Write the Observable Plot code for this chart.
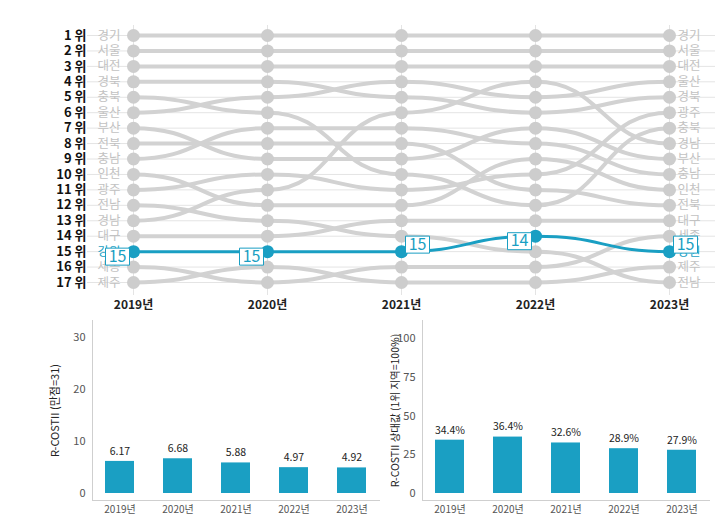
<!DOCTYPE html>
<html><head><meta charset="utf-8">
<script src="https://cdn.jsdelivr.net/npm/d3@7"></script>
<script src="https://cdn.jsdelivr.net/npm/@observablehq/plot@0.6"></script>
<style>
body{margin:0;background:#fff;font-family:"Noto Sans CJK KR","Noto Sans",sans-serif;}
#wrap{position:relative;width:728px;height:525px;overflow:hidden;background:#fff;}
#wrap > div{position:absolute;}
</style></head><body>
<div id="wrap"><div id="top" style="left:0;top:0"></div><div id="bl" style="left:0;top:318px"></div><div id="br" style="left:370px;top:318px"></div></div>
<script>
const years = [2019, 2020, 2021, 2022, 2023];
const order2019 = ["경기","서울","대전","경북","충북","울산","부산","전북","충남","인천","광주","전남","경남","대구","강원","세종","제주"];
const order2020 = ["경기","서울","대전","경북","울산","충북","충남","전북","부산","광주","경남","인천","전남","대구","강원","제주","세종"];
const order2021 = ["경기","서울","대전","울산","경북","경남","충남","전북","부산","충북","광주","인천","대구","전남","강원","세종","제주"];
const order2022 = ["경기","서울","대전","경남","울산","경북","부산","충남","인천","광주","전북","충북","대구","강원","전남","세종","제주"];
const order2023 = ["경기","서울","대전","울산","경북","광주","충북","경남","부산","충남","인천","전북","대구","세종","강원","제주","전남"];
const rankLabels = ["1 위","2 위","3 위","4 위","5 위","6 위","7 위","8 위","9 위","10 위","11 위","12 위","13 위","14 위","15 위","16 위","17 위"];
const highlight = "강원";
const yearLabels = ["2019년","2020년","2021년","2022년","2023년"];
const scoreValues = [6.17, 6.68, 5.88, 4.97, 4.92];
const scoreLabels = ["6.17","6.68","5.88","4.97","4.92"];
const scoreTicks = [0, 10, 20, 30];
const relValues = [34.4, 36.4, 32.6, 28.9, 27.9];
const relLabels = ["34.4%","36.4%","32.6%","28.9%","27.9%"];
const relTicks = [0, 25, 50, 75, 100];
const scoreTitle = "R-COSTII (만점=31)";
const relTitle = "R-COSTII 상대값 (1위 지역=100%)";

const BLUE = "#1a9fc3";
const FONT = "'Noto Sans CJK KR','Noto Sans',sans-serif";
const orders = [order2019, order2020, order2021, order2022, order2023];
const flows = orders.flatMap((ord, i) => ord.map((r, j) => ({region: r, year: years[i], rank: j + 1})));
const gray = flows.filter(d => d.region !== highlight);
const hi = flows.filter(d => d.region === highlight);
const ranks = rankLabels.map((_, i) => i + 1);
const firstYear = flows.filter(d => d.year === years[0]);
const lastYear = flows.filter(d => d.year === years[years.length - 1]);
const rightSide = new Set([2021, 2023]);
const hiLeft = hi.filter(d => !rightSide.has(d.year));
const hiRight = hi.filter(d => rightSide.has(d.year));
const box = {draw(ctx) { ctx.rect(-12, -8.5, 24, 17); }};

const topChart = Plot.plot({
  width: 728, height: 318,
  marginLeft: 133, marginRight: 59, marginTop: 35, marginBottom: 36,
  x: {domain: [years[0], years[years.length - 1]]},
  y: {domain: [1, 17], reverse: true, axis: null},
  style: {fontFamily: FONT, background: "transparent", overflow: "visible"},
  marks: [
    Plot.ruleY(ranks, {y: d => d, stroke: "#e4e4e4", strokeWidth: 1, insetLeft: -46, insetRight: -46}),
    Plot.ruleX(years, {x: d => d, stroke: "#e4e4e4", strokeWidth: 1, insetTop: -10, insetBottom: -13}),
    Plot.line(gray, {x: "year", y: "rank", z: "region", curve: "bump-x", stroke: "#d2d2d2", strokeWidth: 4}),
    Plot.dot(gray, {x: "year", y: "rank", r: 6.5, fill: "#cdcdcd"}),
    Plot.line(hi, {x: "year", y: "rank", curve: "bump-x", stroke: BLUE, strokeWidth: 3}),
    Plot.dot(hi, {x: "year", y: "rank", r: 6.5, fill: BLUE}),
    Plot.text(ranks, {frameAnchor: "left", y: d => d, text: d => rankLabels[d - 1], dx: -47, textAnchor: "end", fontWeight: "bold", fontSize: 13, fill: "#111"}),
    Plot.text(firstYear, {x: "year", y: "rank", text: "region", dx: -36, textAnchor: "start", fontSize: 12.5, fill: d => d.region === highlight ? BLUE : "#c2c2c2"}),
    Plot.text(lastYear, {x: "year", y: "rank", text: "region", dx: 8, textAnchor: "start", fontSize: 12.5, fill: d => d.region === highlight ? BLUE : "#c2c2c2"}),
    Plot.dot(hiLeft, {x: "year", y: "rank", symbol: box, fill: "white", stroke: BLUE, strokeWidth: 1, dx: -16, dy: 5}),
    Plot.text(hiLeft, {x: "year", y: "rank", text: d => String(d.rank), dx: -16, dy: 5, fill: BLUE, fontSize: 16}),
    Plot.dot(hiRight, {x: "year", y: "rank", symbol: box, fill: "white", stroke: BLUE, strokeWidth: 1, dx: 16, dy: -7}),
    Plot.text(hiRight, {x: "year", y: "rank", text: d => String(d.rank), dx: 16, dy: -7, fill: BLUE, fontSize: 16}),
    Plot.axisX(years, {tickFormat: d => d + "년", tickSize: 0, tickPadding: 18, fontWeight: "bold", fontSize: 12, fill: "#222", label: null})
  ]
});
document.getElementById("top").append(topChart);

function barChart({values, labels, ticks, title, width, marginLeft, marginRight, insetTop, titleDx, titleSize}) {
  const data = values.map((v, i) => ({label: yearLabels[i], value: v, text: labels[i]}));
  return Plot.plot({
    width, height: 207,
    marginLeft, marginRight, marginTop: 2, marginBottom: 25,
    x: {domain: yearLabels, paddingInner: 0.506, paddingOuter: 0.196},
    y: {domain: [0, ticks[ticks.length - 1]], insetTop, insetBottom: 7},
    style: {fontFamily: FONT, background: "transparent", overflow: "visible"},
    marks: [
      Plot.frame({anchor: "left", stroke: "#cfcfcf"}),
      Plot.frame({anchor: "bottom", stroke: "#cfcfcf"}),
      Plot.barY(data, {x: "label", y: "value", fill: BLUE}),
      Plot.text(data, {x: "label", y: "value", text: "text", dy: -10, fontSize: 10.5, fill: "#222"}),
      Plot.axisY({ticks, tickSize: 0, tickPadding: 7, fontSize: 11, fill: "#555", label: null}),
      Plot.axisX({tickSize: 0, tickPadding: 5, fontSize: 10, fill: "#555", label: null}),
      Plot.text([title], {frameAnchor: "left", text: d => d, dx: titleDx, rotate: -90, textAnchor: "middle", fontSize: titleSize, fill: "#222"})
    ]
  });
}
document.getElementById("bl").append(barChart({values: scoreValues, labels: scoreLabels, ticks: scoreTicks, title: scoreTitle, width: 385, marginLeft: 92, marginRight: 6, insetTop: 17, titleDx: -37, titleSize: 11}));
document.getElementById("br").append(barChart({values: relValues, labels: relLabels, ticks: relTicks, title: relTitle, width: 358, marginLeft: 52, marginRight: 19, insetTop: 18, titleDx: -27, titleSize: 10.5}));
</script></body></html>
